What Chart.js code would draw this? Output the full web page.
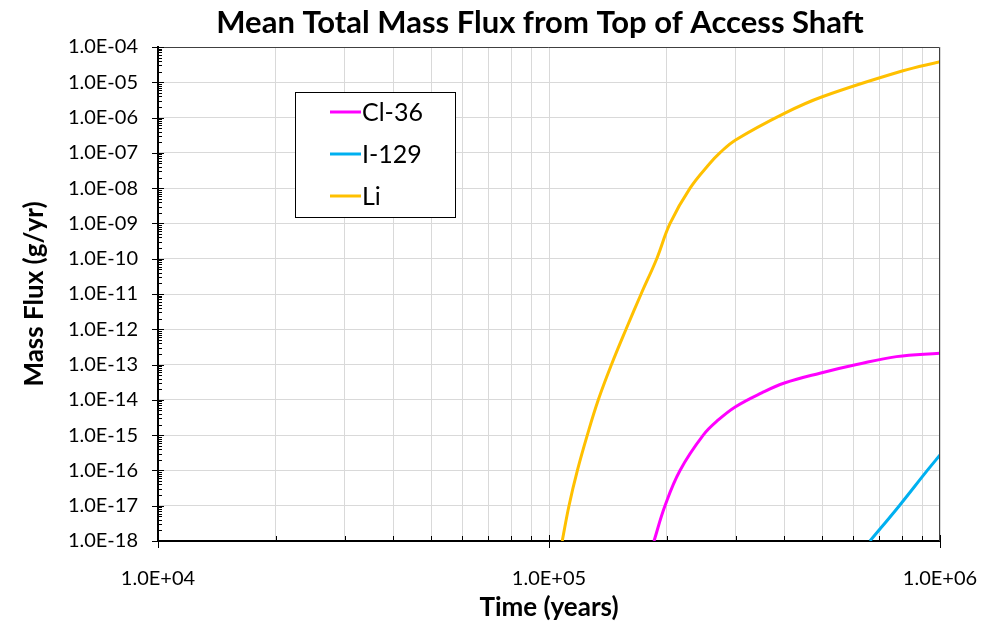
<!DOCTYPE html>
<html>
<head>
<meta charset="utf-8">
<script src="https://cdn.jsdelivr.net/npm/chart.js@4/dist/chart.umd.min.js"></script>
<style>
  html, body { margin: 0; padding: 0; background: #fff; }
  #wrap { width: 996px; height: 623px; }
</style>
</head>
<body>
<div id="wrap"><canvas id="fluxChart"></canvas></div>
<script>
// values (time in years, flux in g/yr)
const timeCl36 = [1.856e5, 1.98e5, 2.163e5, 2.48e5, 2.71e5, 3.0e5, 3.5e5, 4.0e5, 4.93e5, 6.12e5, 7.74e5, 1.0e6];
const fluxCl36 = [1e-18, 1e-17, 1e-16, 1e-15, 2.69e-15, 6.4e-15, 1.58e-14, 3.0e-14, 5.7e-14, 1e-13, 1.68e-13, 2.09e-13];

const timeI129 = [6.62e5, 7.87e5, 9.28e5, 1.0e6];
const fluxI129 = [1e-18, 1e-17, 1e-16, 2.75e-16];

const timeLi = [1.081e5, 1.125e5, 1.182e5, 1.253e5, 1.337e5, 1.445e5, 1.574e5, 1.72e5, 1.886e5,
                2.04e5, 2.295e5, 2.58e5, 2.735e5, 3.0e5, 4.0e5, 5.0e5, 8.0e5, 1.0e6];
const fluxLi = [1e-18, 1e-17, 1e-16, 1e-15, 1e-14, 1e-13, 1e-12, 1e-11, 1e-10,
                1e-9, 1e-8, 5.06e-8, 1e-7, 2.32e-7, 1.32e-6, 3.9e-6, 2.09e-5, 3.84e-5];

const seriesNames = ['Cl-36', 'I-129', 'Li'];
const seriesColors = ['#FF00FF', '#00B0F0', '#FFC000'];

const xDecades = [4, 5, 6];
const yDecades = [-18, -17, -16, -15, -14, -13, -12, -11, -10, -9, -8, -7, -6, -5, -4];

const chartTitle = 'Mean Total Mass Flux from Top of Access Shaft';

const FONT = "Lato, 'Open Sans', sans-serif";
Chart.defaults.font.family = FONT;
Chart.defaults.color = '#000';

function sci(v) {
  const e = Math.round(Math.log10(v));
  const sign = e < 0 ? '-' : '+';
  return '1.0E' + sign + String(Math.abs(e)).padStart(2, '0');
}
function isDecade(v) {
  const l = Math.log10(v);
  return Math.abs(l - Math.round(l)) < 1e-9;
}
function pts(xs, ys) {
  return xs.map((x, i) => ({ x: x, y: ys[i] }));
}

const allData = [pts(timeCl36, fluxCl36), pts(timeI129, fluxI129), pts(timeLi, fluxLi)];

// title, tick marks, plot frame and the legend box
const decorPlugin = {
  id: 'decor',
  afterDraw(chart) {
    const ctx = chart.ctx;
    const a = chart.chartArea;
    const xs = chart.scales.x, ys = chart.scales.y;
    ctx.save();

    ctx.fillStyle = '#000';
    ctx.font = 'bold 31px ' + FONT;
    ctx.textAlign = 'center';
    ctx.textBaseline = 'middle';
    ctx.fillText(chartTitle, 540, 23);
    ctx.textAlign = 'left';

    ctx.strokeStyle = '#404040';
    ctx.lineWidth = 1;
    ctx.beginPath();
    ctx.moveTo(a.left, a.top + 0.5);
    ctx.lineTo(a.right - 0.5, a.top + 0.5);
    ctx.lineTo(a.right - 0.5, a.bottom);
    ctx.stroke();

    ctx.strokeStyle = '#000';
    ctx.lineWidth = 1;
    ctx.beginPath();
    for (let k = yDecades[0]; k < yDecades[yDecades.length - 1]; k++) {
      for (let m = 2; m <= 9; m++) {
        const py = Math.round(ys.getPixelForValue(m * Math.pow(10, k))) + 0.5;
        ctx.moveTo(a.left, py);
        ctx.lineTo(a.left + 4, py);
      }
    }
    yDecades.forEach(k => {
      const py = Math.round(ys.getPixelForValue(Math.pow(10, k))) + 0.5;
      ctx.moveTo(a.left - 6, py);
      ctx.lineTo(a.left + 6, py);
    });
    for (let k = xDecades[0]; k < xDecades[xDecades.length - 1]; k++) {
      for (let m = 2; m <= 9; m++) {
        const px = Math.round(xs.getPixelForValue(m * Math.pow(10, k))) + 0.5;
        ctx.moveTo(px, a.bottom);
        ctx.lineTo(px, a.bottom - 5);
      }
    }
    xDecades.forEach(k => {
      const px = Math.round(xs.getPixelForValue(Math.pow(10, k))) + 0.5;
      ctx.moveTo(px, a.bottom - 6);
      ctx.lineTo(px, a.bottom + 7);
    });
    ctx.stroke();

    // legend
    const bx = 295, by = 92, bw = 160, bh = 125;
    ctx.fillStyle = '#fff';
    ctx.fillRect(bx, by, bw, bh);
    ctx.strokeStyle = '#000';
    ctx.strokeRect(bx + 0.5, by + 0.5, bw, bh);
    ctx.font = '25px ' + FONT;
    ctx.textBaseline = 'middle';
    ctx.fillStyle = '#000';
    chart.data.datasets.forEach((ds, i) => {
      const cy = by + 20 + i * 42;
      ctx.strokeStyle = ds.borderColor;
      ctx.lineWidth = 3;
      ctx.beginPath();
      ctx.moveTo(bx + 35, cy);
      ctx.lineTo(bx + 66, cy);
      ctx.stroke();
      ctx.fillText(ds.label, bx + 67, cy + 1);
    });
    ctx.restore();
  }
};

const fluxCtx = document.getElementById('fluxChart').getContext('2d');
const fluxChart = new Chart(fluxCtx, {
  type: 'line',
  data: {
    datasets: seriesNames.map((name, i) => ({
      label: name,
      data: allData[i],
      borderColor: seriesColors[i],
      backgroundColor: seriesColors[i],
      borderWidth: 3,
      pointRadius: 0,
      tension: 0.4,
      fill: false
    }))
  },
  options: {
    responsive: true,
    maintainAspectRatio: false,
    animation: false,
    layout: { padding: { left: 0, right: 56, top: 47, bottom: 0 } },
    plugins: {
      legend: { display: false },
      tooltip: { enabled: false },
      title: { display: false }
    },
    scales: {
      x: {
        type: 'logarithmic',
        min: 1e4,
        max: 1e6,
        afterBuildTicks(scale) {
          const t = [];
          for (let k = xDecades[0]; k < xDecades[xDecades.length - 1]; k++) {
            for (let m = 1; m <= 9; m++) t.push({ value: m * Math.pow(10, k) });
          }
          t.push({ value: Math.pow(10, xDecades[xDecades.length - 1]) });
          scale.ticks = t;
        },
        afterFit(scale) {
          scale.height = 82;
          scale.paddingLeft = 0;
          scale.paddingRight = 0;
        },
        ticks: {
          autoSkip: false,
          maxRotation: 0,
          padding: 26,
          font: { size: 20 },
          callback: v => isDecade(v) ? sci(v) : ''
        },
        grid: { color: '#d9d9d9', lineWidth: 1, drawTicks: false },
        border: { color: '#000', width: 2 },
        title: {
          display: true,
          text: 'Time (years)',
          font: { size: 26, weight: 'bold' },
          padding: { top: 0, bottom: 0 }
        }
      },
      y: {
        type: 'logarithmic',
        min: 1e-18,
        max: 1e-4,
        afterBuildTicks(scale) {
          scale.ticks = yDecades.map(k => ({ value: Math.pow(10, k) }));
        },
        afterFit(scale) { scale.width = 158; },
        ticks: {
          autoSkip: false,
          padding: 20,
          font: { size: 20 },
          callback: v => sci(v)
        },
        grid: { color: '#d9d9d9', lineWidth: 1, drawTicks: false },
        border: { color: '#000', width: 2 },
        title: {
          display: true,
          text: 'Mass Flux (g/yr)',
          font: { size: 26, weight: 'bold' },
          padding: { top: 19, bottom: 0 }
        }
      }
    }
  },
  plugins: [decorPlugin]
});
</script>
</body>
</html>
